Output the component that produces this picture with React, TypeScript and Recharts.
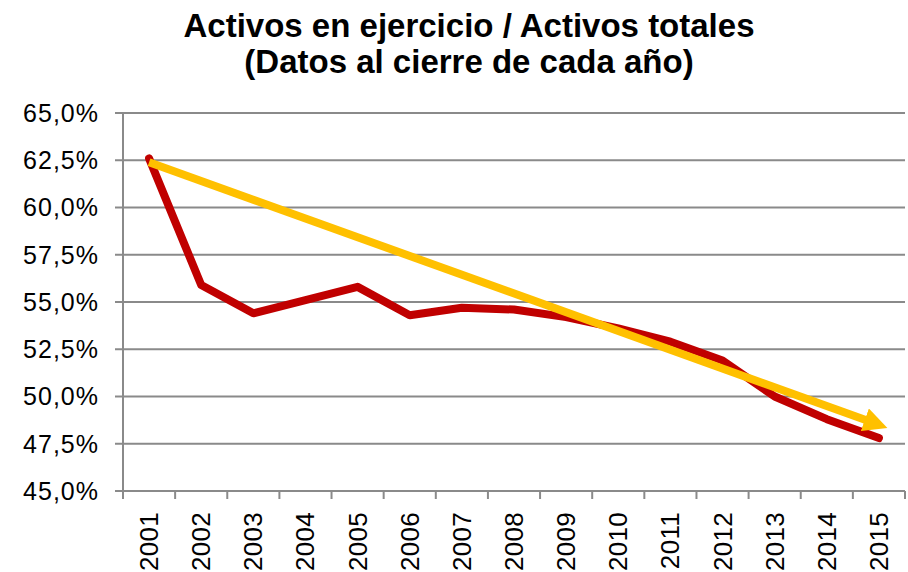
import React from 'react';
import { LineChart, Line, XAxis, YAxis, CartesianGrid } from 'recharts';

const years = [
  '2001', '2002', '2003', '2004', '2005', '2006', '2007', '2008',
  '2009', '2010', '2011', '2012', '2013', '2014', '2015',
];
const ratio = [62.6, 55.9, 54.4, 55.1, 55.8, 54.3, 54.7, 54.6, 54.2, 53.6, 52.9, 51.9, 50.0, 48.8, 47.8];
// trend arrow: first and last year only
const trend = [62.4, null, null, null, null, null, null, null, null, null, null, null, null, null, 48.5];
const yTicks = [45, 47.5, 50, 52.5, 55, 57.5, 60, 62.5, 65];

const data = years.map((year, i) => ({ year, ratio: ratio[i], trend: trend[i] }));

const W = 908;
const H = 572;
const margin = { top: 113, right: 3, bottom: 0, left: 0 };
const Y_AXIS_W = 123;
const X_AXIS_H = 81;
const GRID = '#8a8a8a';
const FONT = '"Liberation Sans", Arial, sans-serif';
const TICK_SIZE = 8;
const TICK_GAP = 13;
const bandW = (W - margin.left - margin.right - Y_AXIS_W) / years.length;

const fmtPct = (v: number) => v.toFixed(1).replace('.', ',') + '%';

const YearTick = (props: any) => {
  const { x, y, payload, index } = props;
  const top = y - TICK_GAP - TICK_SIZE;
  const bottom = y - TICK_GAP;
  return (
    <g>
      <line x1={x - bandW / 2} x2={x - bandW / 2} y1={top} y2={bottom} stroke={GRID} strokeWidth={2} />
      {index === years.length - 1 && (
        <line x1={x + bandW / 2} x2={x + bandW / 2} y1={top} y2={bottom} stroke={GRID} strokeWidth={2} />
      )}
      <text
        x={x}
        y={y}
        transform={`rotate(-90, ${x}, ${y})`}
        textAnchor="end"
        dominantBaseline="central"
        fill="#000"
        fontSize={26}
        fontFamily={FONT}
        letterSpacing={0.3}
      >
        {payload.value}
      </text>
    </g>
  );
};

export default function App() {
  return (
    <div style={{ position: 'absolute', left: 0, top: 0, width: W, height: H, background: '#fff' }}>
      <div
        style={{
          position: 'absolute',
          left: 169,
          top: 8,
          width: 600,
          textAlign: 'center',
          fontFamily: FONT,
          fontWeight: 'bold',
          fontSize: 33,
          lineHeight: '36px',
          color: '#000',
        }}
      >
        Activos en ejercicio / Activos totales
        <br />
        (Datos al cierre de cada año)
      </div>
      <LineChart width={W} height={H} data={data} margin={margin}>
        <defs>
          <marker
            id="trendArrow"
            viewBox="0 0 24 24"
            refX={15}
            refY={12}
            markerWidth={24}
            markerHeight={24}
            markerUnits="userSpaceOnUse"
            orient="auto"
          >
            <path d="M0,0 L24,12 L0,24 Z" fill="#FFC000" />
          </marker>
        </defs>
        <CartesianGrid vertical={false} stroke={GRID} strokeWidth={2} />
        <XAxis
          dataKey="year"
          scale="band"
          interval={0}
          height={X_AXIS_H}
          tick={<YearTick />}
          tickLine={false}
          tickSize={TICK_SIZE}
          tickMargin={TICK_GAP}
          axisLine={{ stroke: GRID, strokeWidth: 2 }}
        />
        <YAxis
          width={Y_AXIS_W}
          domain={[45, 65]}
          ticks={yTicks}
          interval={0}
          tickFormatter={fmtPct}
          tick={{ fill: '#000', fontSize: 25, fontFamily: FONT, letterSpacing: 1 }}
          tickLine={{ stroke: GRID, strokeWidth: 2 }}
          tickSize={8}
          tickMargin={16}
          axisLine={{ stroke: GRID, strokeWidth: 2 }}
        />
        <Line
          type="linear"
          dataKey="ratio"
          stroke="#C00000"
          strokeWidth={8}
          strokeLinejoin="round"
          strokeLinecap="round"
          dot={false}
          activeDot={false}
          isAnimationActive={false}
        />
        <Line
          type="linear"
          dataKey="trend"
          stroke="#FFC000"
          strokeWidth={8}
          connectNulls
          dot={false}
          activeDot={false}
          markerEnd="url(#trendArrow)"
          isAnimationActive={false}
        />
      </LineChart>
    </div>
  );
}
